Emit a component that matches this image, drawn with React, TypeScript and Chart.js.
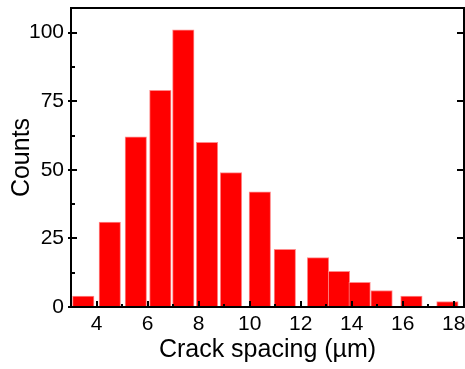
import React, { useEffect, useRef } from "react";
import { Chart, registerables } from "chart.js";

Chart.register(...registerables);

// Bin centres (µm) and counts
const binCenters = [3.48, 4.52, 5.54, 6.5, 7.4, 8.33, 9.27, 10.4, 11.38, 12.68, 13.5, 14.31, 15.17, 16.34, 17.75];
const counts = [4, 31, 62, 79, 101, 60, 49, 42, 21, 18, 13, 9, 6, 4, 2];

const xTickValues = [4, 6, 8, 10, 12, 14, 16, 18];
const xMinorValues = [5, 7, 9, 11, 13, 15, 17];
const yTickValues = [0, 25, 50, 75, 100];
const yMinorValues = [12.5, 37.5, 62.5, 87.5];

const xTitle = "Crack spacing (\u00b5m)";
const yTitle = "Counts";

const FONT = "'Liberation Sans', Arial, Helvetica, sans-serif";

const framePlugin = {
  id: "frameTicks",
  afterDatasetsDraw(chart: any) {
    const { ctx, chartArea } = chart;
    const { left, right, top, bottom } = chartArea;
    const xs = chart.scales.x;
    const ys = chart.scales.y;
    ctx.save();
    ctx.strokeStyle = "#000";
    ctx.lineWidth = 2;
    ctx.beginPath();
    xTickValues.forEach((v) => {
      const p = Math.round(xs.getPixelForValue(v));
      ctx.moveTo(p, bottom);
      ctx.lineTo(p, bottom - 6);
    });
    xMinorValues.forEach((v) => {
      const p = Math.round(xs.getPixelForValue(v));
      ctx.moveTo(p, bottom);
      ctx.lineTo(p, bottom - 3);
    });
    yTickValues.forEach((v) => {
      const p = Math.round(ys.getPixelForValue(v));
      ctx.moveTo(left - 3, p);
      ctx.lineTo(left + 6, p);
    });
    yMinorValues.forEach((v) => {
      const p = Math.round(ys.getPixelForValue(v));
      ctx.moveTo(left, p);
      ctx.lineTo(left + 4, p);
    });
    yTickValues.forEach((v) => {
      const p = Math.round(ys.getPixelForValue(v));
      ctx.moveTo(right, p);
      ctx.lineTo(right - 7, p);
    });
    ctx.stroke();
    ctx.strokeRect(left, top, right - left, bottom - top);
    ctx.restore();
  },
};

export default function App() {
  const canvasRef = useRef<HTMLCanvasElement>(null);

  useEffect(() => {
    document.body.style.margin = "0";
    const canvas = canvasRef.current;
    if (!canvas) return;
    const chart = new Chart(canvas, {
      type: "bar",
      data: {
        datasets: [
          {
            data: binCenters.map((x, i) => ({ x, y: counts[i] })),
            backgroundColor: "#ff0000",
            borderColor: "#ff8a8a",
            borderWidth: 1,
            barThickness: 21.5,
            grouped: false,
          },
        ],
      },
      plugins: [framePlugin],
      options: {
        animation: false,
        responsive: false,
        maintainAspectRatio: false,
        events: [],
        layout: { padding: { left: 0, top: 8, right: 1, bottom: 0 } },
        plugins: { legend: { display: false }, tooltip: { enabled: false } },
        scales: {
          x: {
            type: "linear",
            min: 3,
            max: 18.4,
            offset: false,
            grid: { display: false, drawTicks: false },
            border: { display: false },
            afterBuildTicks: (s: any) => {
              s.ticks = xTickValues.map((v) => ({ value: v }));
            },
            afterFit: (s: any) => {
              s.height = 62;
              s.paddingLeft = 0;
              s.paddingRight = 0;
            },
            ticks: {
              padding: 5,
              color: "#000",
              font: { family: FONT, size: 21 },
              maxRotation: 0,
              autoSkip: false,
            },
            title: {
              display: true,
              text: xTitle,
              color: "#000",
              font: { family: FONT, size: 25 },
              padding: { top: 0, bottom: 4 },
            },
          },
          y: {
            min: 0,
            max: 109,
            grid: { display: false, drawTicks: false },
            border: { display: false },
            afterBuildTicks: (s: any) => {
              s.ticks = yTickValues.map((v) => ({ value: v }));
            },
            afterFit: (s: any) => {
              s.width = 71;
              s.paddingTop = 0;
              s.paddingBottom = 0;
            },
            ticks: {
              padding: 7,
              color: "#000",
              font: { family: FONT, size: 21 },
              autoSkip: false,
            },
            title: {
              display: true,
              text: yTitle,
              color: "#000",
              font: { family: FONT, size: 25 },
              padding: { top: 7, bottom: 0 },
            },
          },
        },
      },
    });
    return () => chart.destroy();
  }, []);

  return (
    <div style={{ width: 465, height: 369, background: "#fff" }}>
      <canvas ref={canvasRef} width={465} height={369} style={{ display: "block" }} />
    </div>
  );
}
